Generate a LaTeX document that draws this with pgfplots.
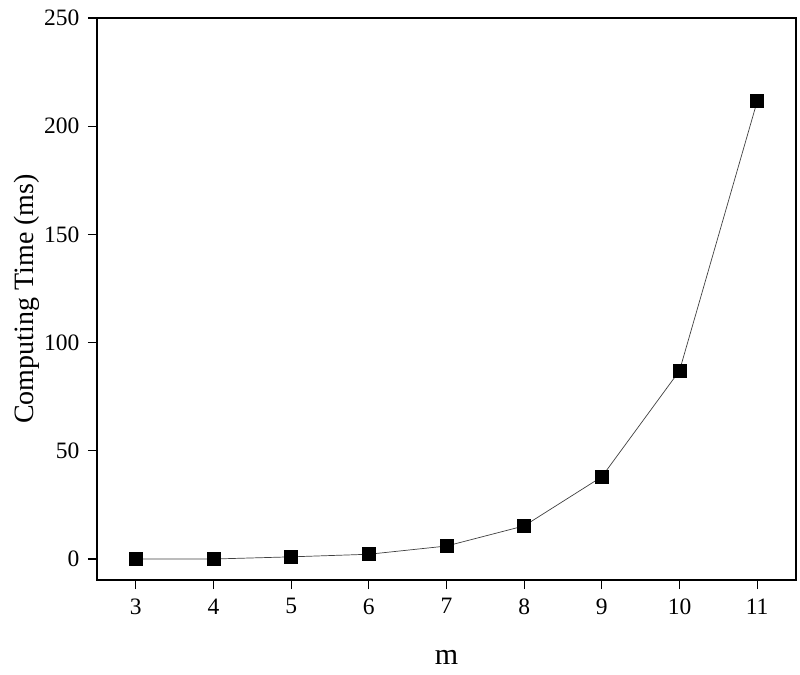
\documentclass[border=0pt]{standalone}
\usepackage{pgfplots}
\pgfplotsset{compat=1.18}
\usepackage{fontspec}
\setmainfont{Liberation Serif}
\begin{document}
\begin{tikzpicture}
\begin{axis}[
  scale only axis,
  width=699pt, height=562pt,
  xmin=2.5, xmax=11.5,
  ymin=-9.7, ymax=250,
  xtick={3,4,5,6,7,8,9,10,11},
  ytick={0,50,100,150,200,250},
  axis line style={line width=1.3pt},
  axis lines*=box,
  tick align=outside,
  xtick pos=bottom, ytick pos=left,
  major tick length=9pt,
  every tick/.style={line width=1.3pt, black},
  tick label style={font=\fontsize{23.5}{27}\selectfont},
  yticklabel style={xshift=-5pt},
  xticklabel style={yshift=-6pt},
  /pgf/number format/assume math mode=true,
  xlabel={m},
  ylabel={Computing Time (ms)},
  xlabel style={font=\fontsize{30}{34}\selectfont, yshift=-29pt},
  ylabel style={font=\fontsize{28}{32}\selectfont, yshift=-2pt},
]
\addplot[line width=0.7pt, color=black!75, mark=square*, mark size=6.5pt, mark options={fill=black, draw=black}]
coordinates {(3,0) (4,0) (5,1) (6,2.2) (7,6) (8,15.3) (9,38) (10,87) (11,211.5)};
\coordinate (sw) at (rel axis cs:0,0);
\coordinate (ne) at (rel axis cs:1,1);
\end{axis}
\pgfresetboundingbox
\path ([shift={(-97pt,-94pt)}]sw) rectangle ([shift={(4pt,18pt)}]ne);
\end{tikzpicture}
\end{document}
